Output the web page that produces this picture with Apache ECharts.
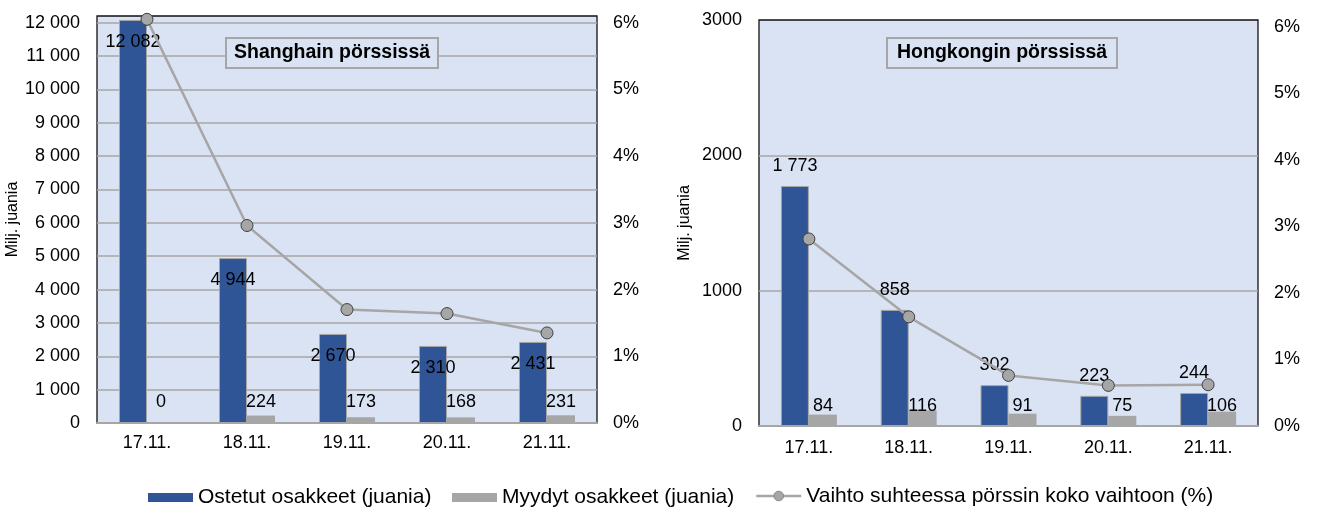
<!DOCTYPE html>
<html>
<head>
<meta charset="utf-8">
<script src="https://cdn.jsdelivr.net/npm/echarts@6/dist/echarts.min.js"></script>
<style>
  html, body { margin: 0; padding: 0; background: #fff; }
  #chart { width: 1317px; height: 507px; }
</style>
</head>
<body>
<div id="chart"></div>
<script>
const categories = ['17.11.', '18.11.', '19.11.', '20.11.', '21.11.'];

const seriesNames = ['Ostetut osakkeet (juania)', 'Myydyt osakkeet (juania)', 'Vaihto suhteessa pörssin koko vaihtoon (%)'];

// Shanghai
const shBought = [12082, 4944, 2670, 2310, 2431];
const shSold = [0, 224, 173, 168, 231];
const shRatio = [6.05, 2.96, 1.70, 1.64, 1.35];

// Hong Kong
const hkBought = [1773, 858, 302, 223, 244];
const hkSold = [84, 116, 91, 75, 106];
const hkRatio = [2.81, 1.64, 0.76, 0.61, 0.62];

const chartTitles = ['Shanghain pörssissä', 'Hongkongin pörssissä'];
const axisName = 'Milj. juania';

const FONT = '"Liberation Sans", Arial, sans-serif';
const BLUE = '#2F5597';
const GRAY = '#A6A6A6';
const BG = '#DAE3F3';

function spaced(v) {
  return String(v).replace(/\B(?=(\d{3})+(?!\d))/g, ' ');
}

const chart = echarts.init(document.getElementById('chart'), null, { renderer: 'canvas' });

const grids = [
  { left: 97, top: 16, width: 500, height: 407 },
  { left: 759, top: 20, width: 499, height: 406 }
];

function xAxisFor(i, margin) {
  return {
    type: 'category', gridIndex: i, data: categories,
    axisLine: { show: true, lineStyle: { color: GRAY, width: 2 } },
    axisTick: { show: false },
    axisLabel: { color: '#000', fontSize: 18, fontFamily: FONT, margin: margin }
  };
}

function leftAxis(i, max, fmt, gap) {
  return {
    type: 'value', gridIndex: i, min: 0, max: max, interval: 1000,
    name: axisName, nameLocation: 'middle', nameGap: gap,
    nameTextStyle: { color: '#000', fontSize: 16, fontFamily: FONT },
    axisLine: { show: false }, axisTick: { show: false },
    axisLabel: { color: '#000', fontSize: 18, fontFamily: FONT, margin: 17, formatter: fmt, showMaxLabel: max % 1000 === 0 },
    splitLine: { show: true, showMinLine: false, showMaxLine: false, lineStyle: { color: GRAY, width: 1.5 } }
  };
}

function rightAxis(i) {
  return {
    type: 'value', gridIndex: i, position: 'right', min: 0, max: 6.1, interval: 1,
    axisLine: { show: false }, axisTick: { show: false },
    axisLabel: { color: '#000', fontSize: 18, fontFamily: FONT, margin: 16, formatter: '{value}%', showMaxLabel: false },
    splitLine: { show: false }
  };
}

function barSeries(name, data, xi, yi, color, border, label) {
  return {
    name: name, type: 'bar', xAxisIndex: xi, yAxisIndex: yi, data: data,
    barWidth: 28, barGap: '0%',
    itemStyle: { color: color, borderColor: border, borderWidth: border ? 1 : 0 },
    label: Object.assign({ show: true, color: '#000', fontSize: 18, fontFamily: FONT, formatter: p => spaced(p.value) }, label),
    z: 2
  };
}

function lineSeries(data, xi, yi) {
  return {
    name: seriesNames[2], type: 'line', xAxisIndex: xi, yAxisIndex: yi, data: data,
    symbol: 'circle', symbolSize: 12,
    lineStyle: { color: GRAY, width: 2.5 },
    itemStyle: { color: GRAY, borderColor: '#404040', borderWidth: 1 },
    z: 5
  };
}

function legendFor(name, left, extra) {
  return Object.assign({
    left: left, top: 487, padding: 0, data: [name], itemWidth: 45, itemHeight: 9, itemGap: 0,
    textStyle: { color: '#000', fontSize: 21, fontFamily: FONT }, selectedMode: false
  }, extra);
}

const option = {
  animation: false,
  backgroundColor: '#fff',
  grid: grids.map(g => Object.assign({ show: true, backgroundColor: BG, borderColor: '#111', borderWidth: 1.3 }, g)),
  title: [
    { text: chartTitles[0], left: 226, top: 38, padding: [5, 8, 5, 8], backgroundColor: BG, borderColor: GRAY, borderWidth: 2,
      textStyle: { fontSize: 19.5, fontWeight: 'bold', color: '#000', fontFamily: FONT, lineHeight: 20 } },
    { text: chartTitles[1], left: 887, top: 38, padding: [5, 10, 5, 10], backgroundColor: BG, borderColor: GRAY, borderWidth: 2,
      textStyle: { fontSize: 19.5, fontWeight: 'bold', color: '#000', fontFamily: FONT, lineHeight: 20 } }
  ],
  legend: [
    legendFor(seriesNames[0], 148, { icon: 'rect', itemStyle: { borderWidth: 0 } }),
    legendFor(seriesNames[1], 452, { icon: 'rect', itemStyle: { borderWidth: 0 } }),
    legendFor(seriesNames[2], 755, { itemHeight: 12, top: 485.5, itemStyle: { color: GRAY, borderColor: '#8a8a8a', borderWidth: 1 }, lineStyle: { width: 2.5 } })
  ],
  xAxis: [xAxisFor(0, 11), xAxisFor(1, 13)],
  yAxis: [
    leftAxis(0, 12200, v => spaced(v), 74),
    rightAxis(0),
    leftAxis(1, 3000, v => String(v), 66),
    rightAxis(1)
  ],
  series: [
    barSeries(seriesNames[0], shBought, 0, 0, BLUE, GRAY, { position: 'insideTop', distance: 13 }),
    barSeries(seriesNames[1], shSold, 0, 0, GRAY, null, { position: 'insideBottom', distance: 12 }),
    lineSeries(shRatio, 0, 1),
    barSeries(seriesNames[0], hkBought, 1, 2, BLUE, GRAY, { position: 'top', distance: 11 }),
    barSeries(seriesNames[1], hkSold, 1, 2, GRAY, null, { position: 'insideBottom', distance: 11 }),
    lineSeries(hkRatio, 1, 3)
  ]
};

chart.setOption(option);
</script>
</body>
</html>
